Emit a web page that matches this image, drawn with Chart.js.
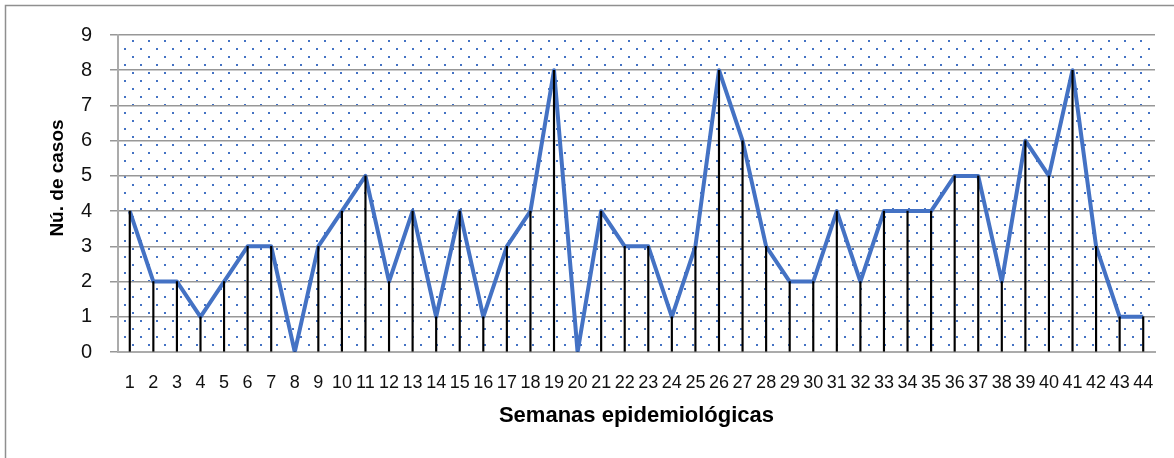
<!DOCTYPE html>
<html>
<head>
<meta charset="utf-8">
<script src="https://cdn.jsdelivr.net/npm/chart.js@4/dist/chart.umd.min.js"></script>
<style>
  html, body { margin: 0; padding: 0; background: #fff; }
  #wrap { position: relative; width: 1174px; height: 458px; }
</style>
</head>
<body>
<div id="wrap"><canvas id="c" width="1174" height="458"></canvas></div>
<script>
const weeks = ['1','2','3','4','5','6','7','8','9','10','11','12','13','14','15','16','17','18','19','20','21','22','23','24','25','26','27','28','29','30','31','32','33','34','35','36','37','38','39','40','41','42','43','44'];
const cases = [4,2,2,1,2,3,3,0,3,4,5,2,4,1,4,1,3,4,8,0,4,3,3,1,3,8,6,3,2,2,4,2,4,4,4,5,5,2,6,5,8,3,1,1];
const yTicks = [0,1,2,3,4,5,6,7,8,9];
const yTitle = 'Nú. de casos';
const xTitle = 'Semanas epidemiológicas';

const BLUE = '#4472C4';

function makePattern(ctx) {
  const t = document.createElement('canvas');
  t.width = 16; t.height = 16;
  const g = t.getContext('2d');
  g.fillStyle = BLUE;
  g.fillRect(4, 8, 2, 2);
  g.fillRect(12, 0, 2, 2);
  return ctx.createPattern(t, 'repeat');
}

const decor = {
  id: 'decor',
  beforeDraw(chart) {
    const ctx = chart.ctx;
    const a = chart.chartArea;
    ctx.save();
    ctx.fillStyle = makePattern(ctx);
    ctx.fillRect(a.left, a.top, a.right - a.left, a.bottom - a.top);
    // outer chart border
    ctx.strokeStyle = '#8f8f8f';
    ctx.lineWidth = 1.5;
    ctx.beginPath();
    ctx.moveTo(5.5, chart.height + 5);
    ctx.lineTo(5.5, 5.5);
    ctx.lineTo(chart.width + 5, 5.5);
    ctx.stroke();
    ctx.restore();
  },
  afterDraw(chart) {
    const ctx = chart.ctx;
    ctx.save();
    ctx.fillStyle = '#000';
    ctx.font = 'bold 19px "Liberation Sans", Arial, sans-serif';
    ctx.textAlign = 'center';
    ctx.textBaseline = 'middle';
    ctx.translate(58, 178);
    ctx.rotate(-Math.PI / 2);
    ctx.fillText(yTitle, 0, 0);
    ctx.restore();
  }
};

new Chart(document.getElementById('c'), {
  type: 'bar',
  data: {
    labels: weeks,
    datasets: [
      {
        type: 'bar',
        data: cases,
        backgroundColor: '#000',
        barThickness: 1.5,
        order: 0
      },
      {
        type: 'line',
        data: cases,
        borderColor: BLUE,
        borderWidth: 4,
        borderJoinStyle: 'round',
        pointRadius: 0,
        tension: 0,
        fill: false,
        order: 1
      }
    ]
  },
  options: {
    responsive: false,
    animation: false,
    events: [],
    layout: { padding: { top: 35, right: 19, left: 0, bottom: 0 } },
    plugins: { legend: { display: false }, tooltip: { enabled: false }, title: { display: false } },
    scales: {
      x: {
        offset: true,
        grid: { display: false, drawTicks: false },
        border: { display: true, color: '#ababab', width: 2 },
        ticks: {
          autoSkip: false, maxRotation: 0, minRotation: 0, padding: 20,
          color: '#111',
          font: { family: '"Liberation Sans", Arial, sans-serif', size: 18 }
        },
        title: {
          display: true, text: xTitle, color: '#000',
          font: { family: '"Liberation Sans", Arial, sans-serif', size: 22, weight: 'bold' },
          padding: { top: 0, bottom: 29 }
        },
        afterFit(s) { s.height = 106; }
      },
      y: {
        min: 0, max: 9,
        afterBuildTicks(s) { s.ticks = yTicks.map(v => ({ value: v })); },
        grid: { color: '#979797', lineWidth: 1.5, tickLength: 8, drawTicks: true },
        border: { display: true, color: '#ababab', width: 2 },
        ticks: {
          padding: 18, color: '#111',
          font: { family: '"Liberation Sans", Arial, sans-serif', size: 20 }
        },
        afterFit(s) { s.width = 118; }
      }
    }
  },
  plugins: [decor]
});
</script>
</body>
</html>
